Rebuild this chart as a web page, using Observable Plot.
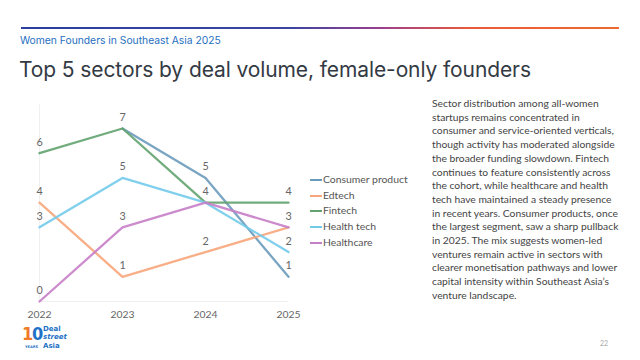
<!DOCTYPE html>
<html><head><meta charset="utf-8">
<script src="https://cdn.jsdelivr.net/npm/d3@7"></script>
<script src="https://cdn.jsdelivr.net/npm/@observablehq/plot@0.6"></script>
<style>
body{margin:0;width:640px;height:360px;position:relative;background:#fff;overflow:hidden;font-family:Lato,sans-serif}
#bar{position:absolute;left:21px;top:27px;width:598px;height:2px;background:linear-gradient(90deg,#2b3f9e 0%,#3a45a0 45%,#9b3f8e 60%,#e85a3a 75%,#ee6a30 100%)}
#sub{position:absolute;left:20px;top:34px;font-family:Inter,sans-serif;font-size:10.3px;color:#1f6fc0}
#title{position:absolute;left:19px;top:57px;font-family:Inter,sans-serif;font-size:21px;color:#333a44;letter-spacing:-0.1px}
#chart{position:absolute;left:0;top:100px}
#legend{position:absolute;left:310px;top:172px;font-size:10.4px;color:#555;line-height:15.7px}
#legend .r{display:flex;align-items:center;white-space:nowrap}
#legend .s{display:inline-block;width:12px;height:2px;margin-right:1px}
#text{position:absolute;left:432px;top:97px;width:190px;font-size:10.3px;line-height:13.7px;color:#444}
#logo{position:absolute;left:22px;top:325px;color:#1f72c6;font-family:"DejaVu Sans",sans-serif;font-weight:bold}
#logo div{position:absolute;white-space:nowrap}
#pg{position:absolute;left:600px;top:339px;font-size:7px;color:#aaa}
</style></head><body>
<div id="bar"></div>
<div id="sub">Women Founders in Southeast Asia 2025</div>
<div id="title">Top 5 sectors by deal volume, female-only founders</div>
<div id="chart"></div>
<div id="legend"></div>
<div id="text">Sector distribution among all-women startups remains concentrated in consumer and service-oriented verticals, though activity has moderated alongside the broader funding slowdown. Fintech continues to feature consistently across the cohort, while healthcare and health tech have maintained a steady presence in recent years. Consumer products, once the largest segment, saw a sharp pullback in 2025. The mix suggests women-led ventures remain active in sectors with clearer monetisation pathways and lower capital intensity within Southeast Asia’s venture landscape.</div>
<div id="logo">
  <div style="left:0;top:-2px;font-size:18px;line-height:21px;letter-spacing:-1.2px;font-family:'DejaVu Sans Condensed','DejaVu Sans'"><span style="color:#f07a2a">1</span>0</div>
  <div style="left:3px;top:19.5px;font-size:3.6px;line-height:4.5px">YEARS</div>
  <div style="left:21px;top:0;font-size:7px;line-height:8.3px">Deal</div>
  <div style="left:21px;top:8.4px;font-size:7px;line-height:8.3px"><i>street</i></div>
  <div style="left:21px;top:16.8px;font-size:7px;line-height:8.3px">Asia</div>
</div>
<div id="pg">22</div>
<script>
const years = [2022, 2023, 2024, 2025];
const sectors = ["Consumer product", "Edtech", "Fintech", "Health tech", "Healthcare"];
const colors = ["#6b9bbb", "#f7a57a", "#62a36f", "#72cbeb", "#c67ec7"];
const consumerProduct = [null, 7, 5, 1];
const edtech = [4, 1, 2, 3];
const fintech = [6, 7, 4, 4];
const healthTech = [3, 5, 4, 2];
const healthcare = [0, 3, 4, 3];
const seriesValues = [consumerProduct, edtech, fintech, healthTech, healthcare];

const rows = [];
sectors.forEach((s, i) => years.forEach((y, j) => {
  if (seriesValues[i][j] != null) rows.push({sector: s, year: y, value: seriesValues[i][j]});
}));
const seen = new Set();
const labels = rows.filter(d => { const k = d.year + ":" + d.value; if (seen.has(k)) return false; seen.add(k); return true; });

const plot = Plot.plot({
  width: 320, height: 226,
  marginLeft: 39, marginRight: 32, marginTop: 28, marginBottom: 25,
  style: {fontFamily: "Lato, sans-serif", fontSize: "10.4px", color: "#666", background: "transparent", overflow: "visible"},
  x: {domain: [2022, 2025], ticks: years, tickFormat: d => String(d), tickSize: 0, tickPadding: 9, label: null},
  y: {domain: [0, 7], axis: null},
  color: {domain: sectors, range: colors},
  marks: [
    Plot.ruleX([2022], {stroke: "#f0f0f0", y1: 0, y2: 7.95}),
    Plot.ruleY([0], {stroke: "#f0f0f0"}),
    Plot.line(rows, {x: "year", y: "value", z: "sector", stroke: "sector", strokeWidth: 2.3, strokeOpacity: 0.9}),
    Plot.text(labels, {x: "year", y: "value", text: d => String(d.value), dy: -11, fill: "#666", fontSize: 10.8})
  ]
});
document.getElementById("chart").appendChild(plot);

const lg = document.getElementById("legend");
sectors.forEach((s, i) => {
  const r = document.createElement("div"); r.className = "r";
  r.innerHTML = `<span class="s" style="background:${colors[i]}"></span>${s}`;
  lg.appendChild(r);
});
</script>
</body></html>
